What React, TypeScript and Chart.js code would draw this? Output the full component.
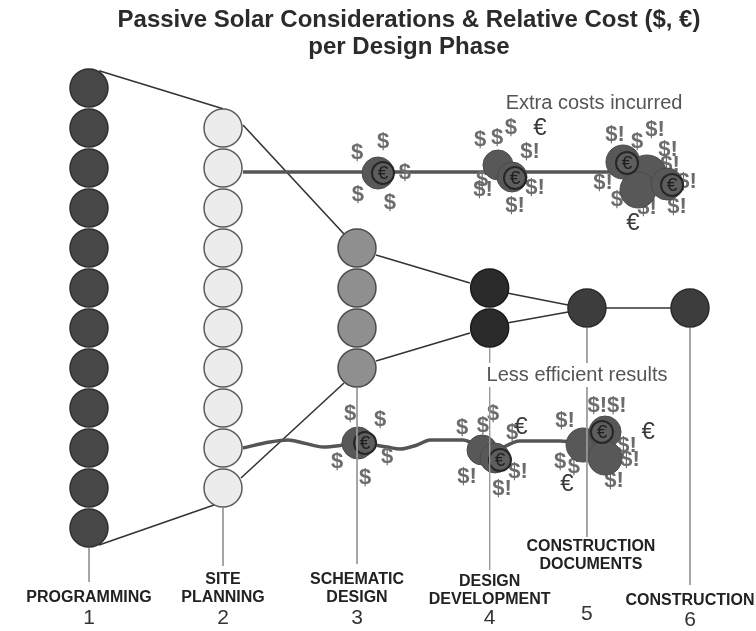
import React, { useEffect, useRef } from "react";
import { Chart, registerables } from "chart.js";

Chart.register(...registerables);

// ---------------- data ----------------
const titleLines = ["Passive Solar Considerations & Relative Cost ($, €)", "per Design Phase"];
const phaseNames = [
  ["PROGRAMMING"],
  ["SITE", "PLANNING"],
  ["SCHEMATIC", "DESIGN"],
  ["DESIGN", "DEVELOPMENT"],
  ["CONSTRUCTION", "DOCUMENTS"],
  ["CONSTRUCTION"],
];
const phaseNumbers = ["1", "2", "3", "4", "5", "6"];
// position of each phase column along the design timeline
const phasePosition = [1, 2.0, 3.0, 3.99, 4.716, 5.485];
// number of passive-solar considerations still open in each phase
const considerationCount = [12, 10, 4, 2, 1, 1];
const stemEnd = [-6.85, -6.45, -6.4, -6.55, -5.725, -6.925];

// links narrowing the options from phase to phase [x1, y1, x2, y2]
const narrowingLinks = [
  [1.075, 5.93, 2.0, 4.98],
  [2.149, 4.575, 2.903, 1.85],
  [3.142, 1.325, 3.843, 0.625],
  [3.142, -1.325, 3.843, -0.625],
  [4.119, 0.375, 4.575, 0.075],
  [4.119, -0.375, 4.575, -0.1],
  [4.716, 0, 5.485, 0],
  [2.134, -4.25, 2.903, -1.875],
  [1.075, -5.925, 1.933, -4.925],
];

// path of a late consideration (extra costs)
const extraCostPathX = [2.149, 5.2];
const extraCostPathY = [3.4, 3.4];
// path of a late consideration (less efficient)
const lessEfficientPathX = [2.149, 2.351, 2.485, 2.6, 2.75, 2.9, 3.007, 3.224, 3.321, 3.448, 3.545, 3.791, 3.993, 4.216, 4.515, 4.701];
const lessEfficientPathY = [-3.5, -3.35, -3.3, -3.375, -3.475, -3.425, -3.375, -3.475, -3.525, -3.425, -3.3, -3.3, -3.6, -3.325, -3.325, -3.425];

// cost blobs along the late paths
const blobX = [3.157, 4.052, 4.157, 4.985, 5.164, 5.097, 5.313, 3.007, 3.933, 4.03, 4.687, 4.851, 4.851];
const blobY = [3.375, 3.575, 3.275, 3.65, 3.325, 2.95, 3.1, -3.375, -3.55, -3.75, -3.425, -3.1, -3.75];
const blobSize = [16, 15, 15, 17, 20, 18, 16, 16, 15, 15, 17, 16, 17];
const euroRingX = [3.194, 4.179, 5.015, 5.351, 3.06, 4.067, 4.828];
const euroRingY = [3.375, 3.25, 3.625, 3.075, -3.375, -3.8, -3.1];

// currency symbols around each blob [text, x, y]
const upperCostGlyphs: [string, number, number][] = [
  ["$", 3.0, 3.875], ["$", 3.194, 4.15], ["$", 3.358, 3.375], ["$", 3.007, 2.825], ["$", 3.246, 2.625],
  ["$", 3.918, 4.2], ["$", 4.045, 4.25], ["$", 4.149, 4.5], ["$!", 4.291, 3.9], ["$", 3.933, 3.2],
  ["$!", 3.94, 2.95], ["$!", 4.328, 3.0], ["$!", 4.179, 2.55],
  ["$!", 4.925, 4.325], ["$!", 5.224, 4.45], ["$", 5.09, 4.15], ["$!", 5.321, 3.95], ["$!", 5.336, 3.575],
  ["$!", 5.463, 3.15], ["$!", 4.836, 3.125], ["$", 4.94, 2.7], ["$!", 5.164, 2.5], ["$!", 5.388, 2.525],
];
const lowerCostGlyphs: [string, number, number][] = [
  ["$", 2.948, -2.65], ["$", 3.172, -2.8], ["$", 3.224, -3.725], ["$", 2.851, -3.85], ["$", 3.06, -4.25],
  ["$", 3.784, -3.0], ["$", 3.94, -2.95], ["$", 4.015, -2.65], ["$", 4.157, -3.125], ["$!", 4.201, -4.1],
  ["$!", 3.821, -4.225], ["$!", 4.082, -4.525],
  ["$!$!", 4.866, -2.45], ["$!", 4.552, -2.825], ["$!", 5.015, -3.45], ["$!", 5.037, -3.8], ["$", 4.515, -3.85],
  ["$", 4.619, -3.975], ["$!", 4.918, -4.325],
];
const looseEuroX = [4.366, 5.06, 4.224, 5.172, 4.567];
const looseEuroY = [4.5, 2.125, -2.975, -3.1, -4.4];

const noteTexts = ["Extra costs incurred", "Less efficient results"];
const noteX = [4.769, 4.642];
const noteY = [5.125, -1.675];

// label layout (rows in axis units)
const nameLastRow = [-7.25, -7.25, -7.25, -7.3, -6.425, -7.325];
const nameShift = [0, 0, 0, 0, 0.03, 0];
const numberRow = [-7.75, -7.75, -7.75, -7.75, -7.65, -7.8];

// ---------------- styles ----------------
const FONT = "'Liberation Sans', Arial, Helvetica, sans-serif";
const stackFill = ["#474747", "#ececec", "#8f8f8f", "#2b2b2b", "#3d3d3d", "#3d3d3d"];
const stackBorder = ["#2e2e2e", "#5a5a5a", "#4a4a4a", "#1a1a1a", "#2a2a2a", "#2a2a2a"];

const diagramPlugin = {
  id: "diagramText",
  afterDatasetDraw(chart: any, args: any) {
    const ds = chart.data.datasets[args.index];
    const ctx = chart.ctx;
    const xs = chart.scales.x;
    const ys = chart.scales.y;
    if (ds.label === "Less efficient path") {
      ctx.save();
      ctx.textAlign = "center";
      ctx.textBaseline = "middle";
      ctx.fillStyle = "#6c6c6c";
      ctx.font = `bold 22px ${FONT}`;
      [...upperCostGlyphs, ...lowerCostGlyphs].forEach(([t, x, y]) => {
        ctx.fillText(t, xs.getPixelForValue(x), ys.getPixelForValue(y));
      });
      ctx.fillStyle = "#3a3a3a";
      ctx.font = `24px ${FONT}`;
      looseEuroX.forEach((x, i) => {
        ctx.fillText("€", xs.getPixelForValue(x), ys.getPixelForValue(looseEuroY[i]));
      });
      ctx.restore();
    }
    if (ds.label === "Euro rings") {
      ctx.save();
      ctx.textAlign = "center";
      ctx.textBaseline = "middle";
      ctx.fillStyle = "#1e1e1e";
      ctx.font = `19px ${FONT}`;
      euroRingX.forEach((x, i) => {
        ctx.fillText("€", xs.getPixelForValue(x), ys.getPixelForValue(euroRingY[i]) + 1);
      });
      ctx.restore();
    }
  },
  afterDatasetsDraw(chart: any) {
    const ctx = chart.ctx;
    const xs = chart.scales.x;
    const ys = chart.scales.y;
    ctx.save();
    ctx.textAlign = "center";
    ctx.textBaseline = "middle";
    // title
    ctx.fillStyle = "#2b2b2b";
    ctx.font = `bold 24px ${FONT}`;
    ctx.fillText(titleLines[0], 409, 20);
    ctx.fillText(titleLines[1], 409, 47);
    // notes
    ctx.font = `20px ${FONT}`;
    noteTexts.forEach((t, i) => {
      const px = xs.getPixelForValue(noteX[i]);
      const py = ys.getPixelForValue(noteY[i]);
      const w = ctx.measureText(t).width;
      ctx.fillStyle = "#ffffff";
      ctx.fillRect(px - w / 2 - 3, py - 12, w + 6, 24);
      ctx.fillStyle = "#555555";
      ctx.fillText(t, px, py);
    });
    // phase labels
    const lineGap = Math.abs(ys.getPixelForValue(0.45) - ys.getPixelForValue(0));
    phaseNames.forEach((lines, i) => {
      const px = xs.getPixelForValue(phasePosition[i] + nameShift[i]);
      const last = ys.getPixelForValue(nameLastRow[i]);
      ctx.fillStyle = "#222222";
      ctx.font = `bold 16px ${FONT}`;
      lines.forEach((l, j) => {
        ctx.fillText(l, px, last - (lines.length - 1 - j) * lineGap);
      });
      ctx.fillStyle = "#333333";
      ctx.font = `21px ${FONT}`;
      ctx.fillText(phaseNumbers[i], xs.getPixelForValue(phasePosition[i]), ys.getPixelForValue(numberRow[i]));
    });
    ctx.restore();
  },
};

export default function App() {
  const ref = useRef<HTMLCanvasElement | null>(null);
  useEffect(() => {
    document.body.style.margin = "0";
    const canvas = ref.current;
    if (!canvas) return;

    const datasets: any[] = [];
    // stems
    phasePosition.forEach((x, i) => {
      datasets.push({
        label: "stem",
        data: [
          { x, y: -(considerationCount[i] / 2) },
          { x, y: stemEnd[i] },
        ],
        showLine: true,
        borderColor: "#9a9a9a",
        borderWidth: 1,
        pointRadius: 0,
        order: 1,
      });
    });
    // narrowing links
    narrowingLinks.forEach((l) => {
      datasets.push({
        label: "link",
        data: [
          { x: l[0], y: l[1] },
          { x: l[2], y: l[3] },
        ],
        showLine: true,
        borderColor: "#333333",
        borderWidth: 1.6,
        pointRadius: 0,
        order: 8,
      });
    });
    // stacks of considerations
    considerationCount.forEach((n, i) => {
      const pts = [] as { x: number; y: number }[];
      for (let k = 0; k < n; k++) pts.push({ x: phasePosition[i], y: (n - 1) / 2 - k });
      datasets.push({
        label: "Phase " + phaseNumbers[i],
        data: pts,
        pointRadius: 19,
        pointBackgroundColor: stackFill[i],
        pointBorderColor: stackBorder[i],
        pointBorderWidth: 1.5,
        showLine: false,
        order: 7,
      });
    });
    datasets.push({
      label: "Extra cost path",
      data: extraCostPathX.map((x, i) => ({ x, y: extraCostPathY[i] })),
      showLine: true,
      borderColor: "#555555",
      borderWidth: 3.5,
      pointRadius: 0,
      order: 6,
    });
    datasets.push({
      label: "Less efficient path",
      data: lessEfficientPathX.map((x, i) => ({ x, y: lessEfficientPathY[i] })),
      showLine: true,
      cubicInterpolationMode: "monotone",
      borderColor: "#555555",
      borderWidth: 3.5,
      pointRadius: 0,
      order: 5,
    });
    datasets.push({
      label: "Cost blobs",
      data: blobX.map((x, i) => ({ x, y: blobY[i] })),
      pointRadius: blobSize,
      pointBackgroundColor: "#585858",
      pointBorderColor: "#4a4a4a",
      pointBorderWidth: 1,
      showLine: false,
      order: 3,
    });
    datasets.push({
      label: "Euro rings",
      data: euroRingX.map((x, i) => ({ x, y: euroRingY[i] })),
      pointRadius: 11,
      pointBackgroundColor: "#5e5e5e",
      pointBorderColor: "#262626",
      pointBorderWidth: 2,
      showLine: false,
      order: 2,
    });

    const chart = new Chart(canvas, {
      type: "scatter",
      data: { datasets },
      options: {
        responsive: false,
        animation: false,
        events: [],
        layout: { padding: 0, autoPadding: false },
        plugins: { legend: { display: false }, tooltip: { enabled: false }, title: { display: false } },
        scales: {
          x: { type: "linear", min: 0.3358, max: 5.9776, display: false },
          y: { type: "linear", min: -8.075, max: 7.7, display: false },
        },
      },
      plugins: [diagramPlugin],
    } as any);
    return () => chart.destroy();
  }, []);
  return <canvas ref={ref} width={756} height={631} style={{ display: "block" }} />;
}
